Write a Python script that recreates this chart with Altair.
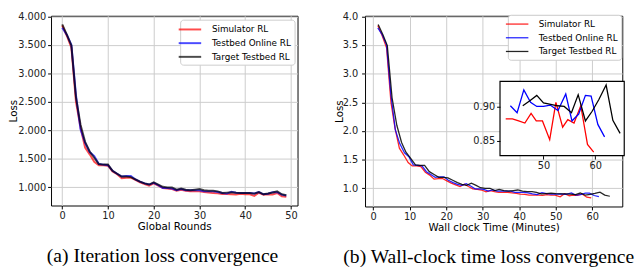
import altair as alt
import pandas as pd

series_names = ["Simulator RL", "Testbed Online RL", "Target Testbed RL"]
series_colors = ["red", "blue", "black"]
rounds = list(range(50))

sim_loss = [3.84, 3.66, 3.45, 2.50, 2.05, 1.70, 1.58, 1.45, 1.39, 1.39,
            1.38, 1.28, 1.23, 1.16, 1.17, 1.17, 1.13, 1.09, 1.06, 1.03,
            1.07, 1.03, 0.99, 0.98, 0.97, 0.94, 0.96, 0.94, 0.93, 0.93,
            0.93, 0.92, 0.91, 0.90, 0.895, 0.882, 0.882, 0.879, 0.876, 0.890,
            0.879, 0.879, 0.852, 0.906, 0.870, 0.881, 0.876, 0.901, 0.845, 0.834]
online_loss = [3.80, 3.68, 3.50, 2.62, 2.02, 1.78, 1.62, 1.55, 1.41, 1.40,
               1.39, 1.29, 1.24, 1.19, 1.20, 1.20, 1.14, 1.10, 1.07, 1.05,
               1.08, 1.04, 0.99, 0.99, 0.98, 0.95, 0.97, 0.95, 0.95, 0.95,
               0.95, 0.93, 0.93, 0.93, 0.92, 0.901, 0.891, 0.924, 0.906, 0.900,
               0.900, 0.902, 0.894, 0.918, 0.879, 0.889, 0.916, 0.915, 0.874, 0.856]
target_loss = [3.86, 3.68, 3.49, 2.58, 2.10, 1.80, 1.63, 1.52, 1.41, 1.40,
               1.40, 1.29, 1.24, 1.19, 1.19, 1.18, 1.14, 1.10, 1.07, 1.05,
               1.09, 1.05, 1.01, 1.00, 1.00, 0.96, 0.98, 0.96, 0.95, 0.96,
               0.97, 0.95, 0.94, 0.94, 0.93, 0.901, 0.908, 0.916, 0.905, 0.903,
               0.901, 0.900, 0.891, 0.917, 0.879, 0.893, 0.910, 0.931, 0.880, 0.861]

sim_time = [1.3, 2.5, 3.7, 4.9, 6.0, 7.2, 8.4, 9.6, 10.7, 11.9,
            13.1, 14.3, 15.5, 16.7, 17.9, 19.0, 20.2, 21.4, 22.6, 23.8,
            25.0, 26.1, 27.3, 28.5, 29.7, 30.9, 32.1, 33.2, 34.4, 35.6,
            36.8, 38.0, 39.2, 40.3, 41.5, 42.7, 44.0, 45.2, 46.4, 47.6,
            48.6, 49.8, 51.2, 52.4, 53.7, 54.7, 55.9, 57.2, 58.5, 59.7]
online_time = [1.3, 2.5, 3.7, 4.9, 6.1, 7.3, 8.6, 9.8, 11.0, 12.2,
               13.4, 14.6, 15.8, 17.0, 18.2, 19.4, 20.6, 21.9, 23.1, 24.3,
               25.5, 26.7, 27.9, 29.1, 30.3, 31.5, 32.7, 33.9, 35.2, 36.4,
               37.6, 38.8, 40.0, 41.2, 42.4, 43.6, 44.9, 46.2, 47.5, 48.7,
               50.0, 51.3, 52.8, 54.3, 55.5, 56.8, 58.1, 59.2, 60.5, 61.8]
target_time = [1.4, 2.7, 3.9, 5.2, 6.5, 7.8, 9.0, 10.3, 11.6, 12.9,
               14.1, 15.4, 16.7, 18.0, 19.2, 20.5, 21.8, 23.1, 24.3, 25.6,
               26.9, 28.2, 29.4, 30.7, 32.0, 33.3, 34.5, 35.8, 37.1, 38.4,
               39.6, 40.9, 42.2, 43.5, 44.7, 46.0, 47.3, 48.7, 50.0, 51.4,
               52.7, 54.0, 55.4, 56.7, 58.1, 59.4, 60.7, 62.1, 63.4, 64.8]

left_x_ticks = [0, 10, 20, 30, 40, 50]
right_x_ticks = [0, 10, 20, 30, 40, 50, 60]
y_ticks = [1.0, 1.5, 2.0, 2.5, 3.0, 3.5, 4.0]
inset_x_ticks = [50, 60]
inset_y_ticks = [0.85, 0.90]
inset_first_round = 35

left_x_domain = [-2.45, 51.45]
right_x_domain = [-2.2, 68.2]
y_domain = [0.682, 4.011]
inset_x_domain = [41.6, 65.6]
inset_y_domain = [0.8288, 0.9364]

captions = ["(a) Iteration loss convergence", "(b) Wall-clock time loss convergence"]

rows = []
for name, losses, times in zip(series_names, [sim_loss, online_loss, target_loss],
                               [sim_time, online_time, target_time]):
    for r, v, t in zip(rounds, losses, times):
        rows.append({"series": name, "round": r, "time": t, "loss": v})
df = pd.DataFrame(rows)

frame_df = pd.DataFrame([{"x0": inset_x_domain[0], "x1": inset_x_domain[1],
                          "y0": inset_y_domain[0], "y1": inset_y_domain[1]}])

FONT = "DejaVu Sans"
W1, H1 = 252, 194
W2, H2 = 263, 195


def color_enc(legend):
    return alt.Color("series:N", scale=alt.Scale(domain=series_names, range=series_colors),
                     legend=legend)


def make_legend(x, y, sw):
    return alt.Legend(title=None, orient="none", legendX=x, legendY=y,
                      fillColor="white", strokeColor="#cccccc", cornerRadius=3,
                      padding=3, labelFont=FONT, labelFontSize=9, labelColor="black",
                      symbolType="M-2,0H2", symbolSize=132, symbolStrokeWidth=sw,
                      labelOffset=15.5, rowPadding=2, zindex=1)


def caption(text, dx):
    return alt.Title(text, orient="bottom", anchor="middle", frame="group",
                     font="Liberation Serif", fontSize=20, fontWeight="normal",
                     color="black", offset=15, dx=dx)


left = alt.Chart(df).mark_line(strokeWidth=2, opacity=0.7).encode(
    x=alt.X("round:Q", scale=alt.Scale(domain=left_x_domain, nice=False, zero=False),
            axis=alt.Axis(values=left_x_ticks, format="d", title="Global Rounds")),
    y=alt.Y("loss:Q", scale=alt.Scale(domain=y_domain, nice=False, zero=False),
            axis=alt.Axis(values=y_ticks, format=".3f", title="Loss",
                          titleX=-38, titleY=H1 / 2, titleAngle=270,
                          titleAlign="center", titleBaseline="middle", labelPadding=2)),
    color=color_enc(make_legend(132, 4, 2)),
).properties(width=W1, height=H1, title=caption(captions[0], -12))

right_main = alt.Chart(df).mark_line(strokeWidth=1.3, opacity=0.85).encode(
    x=alt.X("time:Q", scale=alt.Scale(domain=right_x_domain, nice=False, zero=False),
            axis=alt.Axis(values=right_x_ticks, format="d", title="Wall clock Time (Minutes)")),
    y=alt.Y("loss:Q", scale=alt.Scale(domain=y_domain, nice=False, zero=False),
            axis=alt.Axis(values=y_ticks, format=".1f", title="Loss",
                          titleX=-26, titleY=H2 / 2, titleAngle=270,
                          titleAlign="center", titleBaseline="middle", labelPadding=4)),
    color=color_enc(make_legend(146, -1, 1.3)),
)

ix_range = [138, 265]
iy_range = [143, 67]
ix_scale = alt.Scale(domain=inset_x_domain, range=ix_range, nice=False, zero=False)
iy_scale = alt.Scale(domain=inset_y_domain, range=iy_range, nice=False, zero=False)
ix_axis = alt.Axis(values=inset_x_ticks, format="d", title=None, orient="bottom",
                   offset=-(H2 - iy_range[0]), grid=False, domain=False, zindex=1,
                   labelFlush=False)
iy_axis = alt.Axis(values=inset_y_ticks, format=".2f", title=None, orient="left",
                   offset=-ix_range[0], grid=False, domain=False, zindex=1,
                   labelPadding=2)

inset_frame = alt.Chart(frame_df).mark_rect(fill="white", stroke="black", strokeWidth=1.2,
                                             opacity=1).encode(
    x=alt.X("x0:Q", scale=ix_scale, axis=ix_axis),
    x2="x1:Q",
    y=alt.Y("y0:Q", scale=iy_scale, axis=iy_axis),
    y2="y1:Q",
)
inset_lines = alt.Chart(df).transform_filter(
    alt.datum.round >= inset_first_round
).mark_line(strokeWidth=1.3).encode(
    x=alt.X("time:Q", scale=ix_scale, axis=ix_axis),
    y=alt.Y("loss:Q", scale=iy_scale, axis=iy_axis),
    color=color_enc(None),
)
inset = alt.layer(inset_frame, inset_lines)

right = alt.layer(right_main, inset).resolve_scale(
    x="independent", y="independent", color="independent"
).properties(width=W2, height=H2, title=caption(captions[1], -5))

chart = alt.hconcat(left, right, spacing=69, bounds="flush").resolve_scale(
    color="independent"
).resolve_legend(color="independent").properties(
    padding={"left": 0, "top": 0, "right": 0, "bottom": 0}
).configure_view(stroke="black", strokeWidth=1).configure_axis(
    labelFont=FONT, labelFontSize=10, labelColor="#222222",
    titleFont=FONT, titleFontSize=10.5, titleFontWeight="normal", titleColor="black",
    tickColor="black", tickSize=3.5, tickWidth=1, domain=False,
    gridColor="#cccccc", gridWidth=1, labelFlush=False, titlePadding=1, labelPadding=2
)

chart.save("out.html", embed_options={"renderer": "svg", "actions": False})
